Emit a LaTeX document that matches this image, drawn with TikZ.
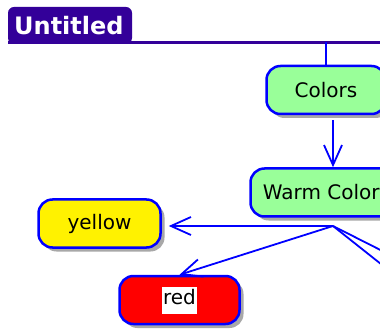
\documentclass[tikz,border=0pt]{standalone}
\usepackage{fontspec}
\setmainfont{DejaVu Sans}
\usetikzlibrary{arrows.meta,shadows}
\definecolor{tabc}{HTML}{330099}
\definecolor{lgreen}{HTML}{99FF99}
\definecolor{shad}{HTML}{A8A8A8}
\tikzset{
  mapbox/.style={rectangle, rounded corners=14pt, draw=blue, line width=2.5pt,
    minimum height=48pt, inner sep=4pt, text=black,
    font=\fontsize{20}{24}\selectfont,
    drop shadow={shadow xshift=4pt, shadow yshift=-4pt, fill=shad, opacity=1}},
  link/.style={draw=blue, line width=1.8pt},
  arr/.style={link, -{Straight Barb[length=20pt,width=18pt,line width=1.8pt]}}
}
\begin{document}
\begin{tikzpicture}[x=1pt,y=-1pt]
\useasboundingbox (0,0) rectangle (380,331);
% header tab
\fill[tabc, rounded corners=6pt] (8,44) -- (8,7) -- (132,7) -- (132,44) -- cycle;
\node[anchor=base west, text=white, inner sep=0pt, font=\bfseries\fontsize{24}{28}\selectfont] (title) at (14,35) {Untitled};
\coordinate (hl) at (0,42.5);
\draw[tabc, line width=3pt] (8,42.5) -- (380,42.5);
% nodes
\node[mapbox, fill=lgreen, minimum width=119pt] (colors) at (326,90) {Colors};
\node[mapbox, fill=lgreen, minimum width=152pt] (warm) at (326.5,192.5) {Warm Colors};
\node[mapbox, fill=yellow, minimum width=122pt] (yellow) at (99.5,223.5) {yellow};
\node[mapbox, fill=red, minimum width=120pt] (red) at (179.5,300) {\fboxsep=1.5pt\colorbox{white}{\strut red}};
\coordinate (j) at (333,226);
\coordinate (offa) at (420,270);
\coordinate (offb) at (420,295);
% connectors
\draw[link] (colors.north) -- (colors.north |- hl);
\draw[arr, shorten <=5pt] (colors.south -| j) -- (warm.north -| j);
\draw[arr, shorten >=7pt] (j) -- (j -| yellow.east);
\draw[arr] (j) -- (red.north);
\draw[link] (j) -- (offa);
\draw[link] (j) -- (offb);
\end{tikzpicture}
\end{document}
